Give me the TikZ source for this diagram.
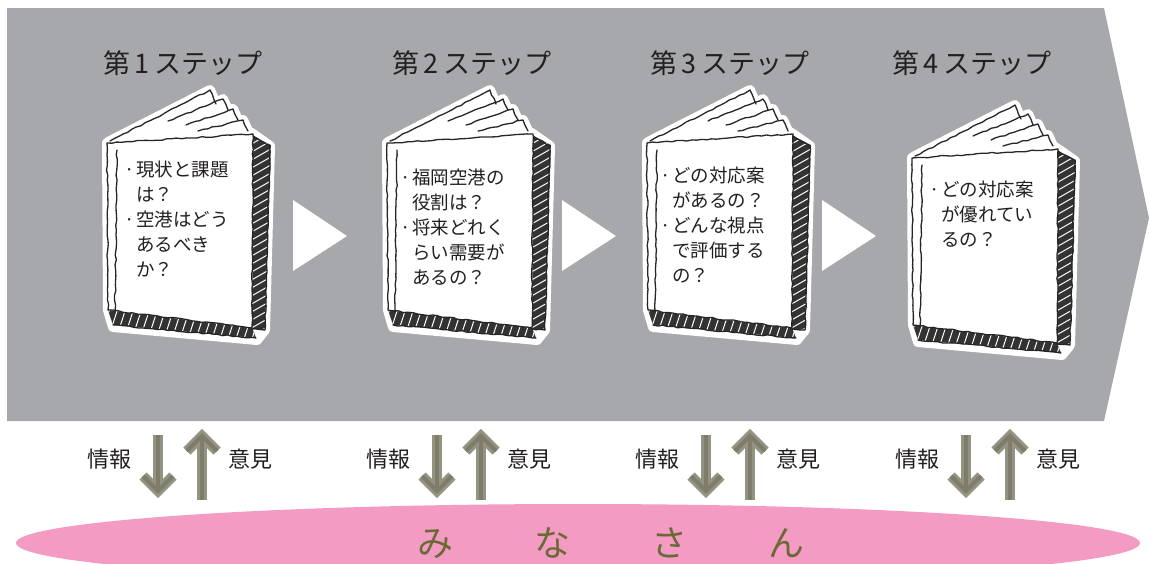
\documentclass[tikz,border=0pt]{standalone}
\usepackage{fontspec}
\setmainfont{Noto Sans CJK JP}
\usepackage{xcolor}
\usepackage{tikz}
\usetikzlibrary{calc}
\usetikzlibrary{decorations.pathmorphing}

\definecolor{bandgray}{RGB}{167,168,172}
\definecolor{pinkfill}{RGB}{243,155,195}
\definecolor{arrowolive}{RGB}{148,146,128}
\definecolor{arrowcore}{RGB}{126,124,106}
\definecolor{inkolive}{RGB}{108,104,56}
\definecolor{inkdark}{RGB}{35,31,32}

% hand drawn booklet, drawn in the frame of the first one
\newcommand{\sketchbook}[1]{%
	\begin{scope}[shift={#1}]
		% white backing round the whole sketch
		\filldraw[halo] (107,143) -- (110,141) -- (210,90) -- (216,104) -- (223,99) -- (228,110) -- (233,109) -- (238,120) -- (243,120) -- (248,131) -- (253,134) -- (270,146) -- (265,330) -- (257,340) -- (113,327) -- (108,310) -- cycle;
		% hatched page edges, right side
		\begin{scope}
			\clip (253,136) -- (271,145) -- (265,330) -- (252,329) -- cycle;
			\fill[black!80] (245,130) rectangle (280,340);
			\foreach \k in {0,...,26}
				\draw[white, line width=1pt] (248,138+8*\k) -- (276,122+8*\k);
		\end{scope}
		% hatched page edges, bottom
		\begin{scope}
			\clip (108,310) -- (252,328) -- (256,338) -- (113,325) -- cycle;
			\fill[black!80] (100,300) rectangle (260,345);
			\foreach \k in {0,...,20}
				\draw[white, line width=1pt] (98+8*\k,345) -- (112+8*\k,302);
		\end{scope}
		\draw[sketch] (253,136) -- (270,146) -- (265,330) -- (252,329);
		\draw[sketch] (113,325) -- (256,338);
		% fanned pages
		\draw[sketch] (110,141) -- (210,90) -- (216,104);
		\draw[sketch] (168,121) -- (223,99) -- (228,110);
		\draw[sketch] (186,125) -- (233,109) -- (238,120);
		\draw[sketch] (198,131) -- (243,120) -- (248,131);
		% cover and spine
		\draw[sketch, fill=white] (107,143) -- (253,134) -- (252,328) -- (108,310) -- cycle;
		\draw[sketch] (117,150) -- (115,312);
	\end{scope}}

\begin{document}
\begin{tikzpicture}[
		%Global config
		x=1pt, y=-1pt,
		color=inkdark,
		%Styles
		band/.style={fill=bandgray, draw=none},
		play/.style={fill=white, draw=none},
		halo/.style={fill=white, draw=white, line width=10pt, line join=round},
		title/.style={font=\fontsize{27}{27}\selectfont, inner sep=0pt},
		memo/.style={font=\fontsize{18.5}{25}\selectfont, align=left, anchor=north west, inner sep=0pt},
		side/.style={font=\fontsize{22}{22}\selectfont, inner sep=0pt},
		sketch/.style={draw=black!85, line width=1.3pt, line join=round, line cap=round,
			decorate, decoration={random steps, segment length=5pt, amplitude=0.7pt}},
		flow/.style={draw=arrowolive, line width=10pt, line join=miter},
		flowcore/.style={draw=arrowcore, line width=4pt, line join=miter},
		]
		\pgfmathsetseed{11}
		\useasboundingbox (0,0) rectangle (1149,563);
		\clip (0,0) rectangle (1149,563);

		% big grey band
		\fill[band] (7,8) -- (1104,8) -- (1149,218) -- (1104,421) -- (7,421) -- cycle;

		% step titles
		\node[title] (step1) at (183,63) {第\,1\,ステップ};
		\node[title] (step2) at (472,63) {第\,2\,ステップ};
		\node[title] (step3) at (730,63) {第\,3\,ステップ};
		\node[title] (step4) at (972,63) {第\,4\,ステップ};

		% booklets
		\sketchbook{(0,0)}
		\sketchbook{(280,0)}
		\sketchbook{(540,0)}
		\sketchbook{(805,15)}

		\node[memo] (memo1) at (136,160.5) {\llap{·\hspace{1pt}}現状と課題\\は？\\\llap{·\hspace{1pt}}空港はどう\\あるべき\\か？};
		\node[memo] (memo2) at (412,169) {\llap{·\hspace{1pt}}福岡空港の\\役割は？\\\llap{·\hspace{1pt}}将来どれく\\らい需要が\\あるの？};
		\node[memo] (memo3) at (672,167) {\llap{·\hspace{1pt}}どの対応案\\があるの？\\\llap{·\hspace{1pt}}どんな視点\\で評価する\\の？};
		\node[memo] (memo4) at (941,181) {\llap{·\hspace{1pt}}どの対応案\\が優れてい\\るの？};

		% play marks between the steps
		\foreach \s in {0,269,529}
			\fill[play] (293+\s,200) -- (293+\s,271) -- (347+\s,236) -- cycle;

		% everyone
		\fill[pinkfill] (578,543) ellipse [x radius=562, y radius=39];
		\node[anchor=base, inner sep=0pt, text=inkolive, font=\fontsize{36}{36}\selectfont] (minasan) at (611,556) {み\hspace{81pt}な\hspace{81pt}さ\hspace{81pt}ん};

		% information down, opinions up
		\foreach \d [count=\i] in {158,437,706,966} {
			\pgfmathsetmacro{\u}{\d+44}
			\node[side] (info\i) at (\d-49,459) {情報};
			\node[side] (voice\i) at (\d+92,459) {意見};
			\coordinate (dtop\i) at (\d,435);
			\coordinate (dtip\i) at (\d,491);
			\coordinate (ubot\i) at (\u,500);
			\coordinate (utip\i) at (\u,436);
			\foreach \st in {flow,flowcore} {
				\draw[\st] (dtop\i) -- (dtip\i);
				\draw[\st] ($(dtip\i)+(-15,-15)$) -- (dtip\i) -- ($(dtip\i)+(15,-15)$);
				\draw[\st] (ubot\i) -- (utip\i);
				\draw[\st] ($(utip\i)+(-15,15)$) -- (utip\i) -- ($(utip\i)+(15,15)$);
			}
		}
	\end{tikzpicture}
\end{document}
